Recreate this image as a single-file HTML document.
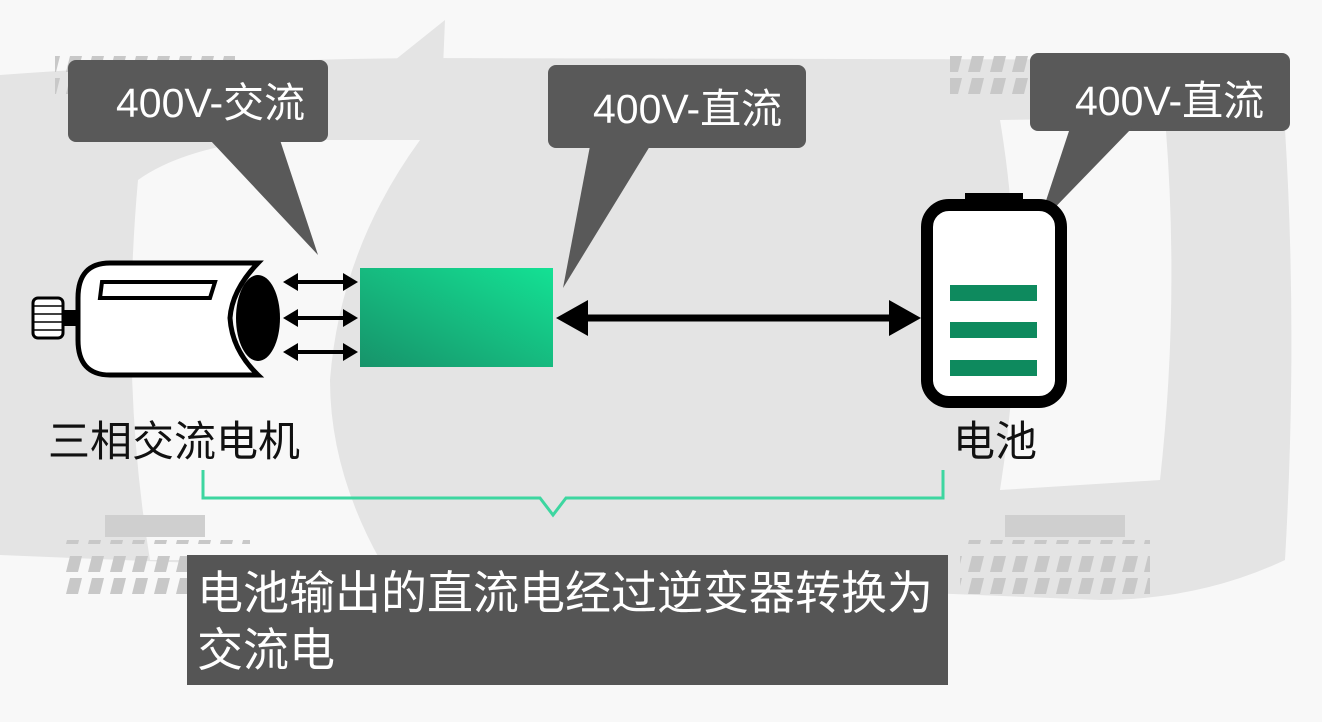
<!DOCTYPE html>
<html><head><meta charset="utf-8"><style>
html,body{margin:0;padding:0;background:#f8f8f8}
svg{display:block}
text{font-family:"Liberation Sans","Noto Sans CJK SC",sans-serif}
</style></head><body>
<svg width="1322" height="722" viewBox="0 0 1322 722" xmlns="http://www.w3.org/2000/svg">
<defs>
<linearGradient id="g" x1="0" y1="1" x2="1" y2="0">
<stop offset="0" stop-color="#17936a"/><stop offset="1" stop-color="#14e194"/>
</linearGradient>
<pattern id="tr" width="22" height="50" patternUnits="userSpaceOnUse">
<polygon points="4,6 16,6 12,22 0,22" fill="#c8c8c8"/>
<polygon points="4,28 16,28 12,44 0,44" fill="#c8c8c8"/>
</pattern>
</defs>
<rect width="1322" height="722" fill="#f8f8f8"/>
<path d="M0,75 Q200,60 420,58 L1280,60 Q1300,300 1285,560 Q1200,600 1100,600 L0,555 Z" fill="#e4e4e4"/>
<path d="M138,180 Q180,150 260,140 L420,140 Q340,250 330,380 Q330,470 380,560 L150,560 Q120,380 138,180 Z" fill="#f8f8f8"/>
<path d="M1000,120 L1165,118 Q1180,300 1160,480 L1000,490 Q1030,300 1000,120 Z" fill="#f8f8f8"/>
<path d="M445,20 L440,140 Q400,100 395,60 Z" fill="#e4e4e4"/>
<rect x="0" y="610" width="1322" height="112" fill="#f8f8f8"/>
<rect x="55" y="45" width="180" height="50" fill="url(#tr)"/>
<rect x="950" y="45" width="190" height="55" fill="url(#tr)"/>
<rect x="60" y="540" width="190" height="60" fill="url(#tr)"/>
<rect x="960" y="540" width="190" height="60" fill="url(#tr)"/>
<rect x="105" y="515" width="100" height="22" fill="#cfcfcf"/>
<rect x="1005" y="515" width="120" height="22" fill="#cfcfcf"/>
<g fill="#595959">
<rect x="68" y="60" width="260" height="82" rx="8"/>
<polygon points="210,140 280,140 318,255"/>
<rect x="548" y="65" width="258" height="83" rx="8"/>
<polygon points="590,146 650,146 563,288"/>
<rect x="1030" y="53" width="260" height="78" rx="8"/>
<polygon points="1070,128 1132,128 1038,225"/>
</g>
<g fill="#fff" font-size="41">
<text x="116" y="117">400V-交流</text>
<text x="593" y="123">400V-直流</text>
<text x="1075" y="115">400V-直流</text>
</g>
<rect x="33" y="298" width="30" height="40" rx="5" fill="#fff" stroke="#000" stroke-width="3"/>
<g stroke="#000" stroke-width="1.5"><line x1="34" y1="306" x2="62" y2="306"/><line x1="34" y1="314" x2="62" y2="314"/><line x1="34" y1="322" x2="62" y2="322"/><line x1="34" y1="330" x2="62" y2="330"/></g>
<rect x="62" y="310" width="18" height="16" fill="#000"/>
<path d="M110,263 L258,263 Q232,290 230,318 Q232,350 258,375 L110,375 Q78,375 78,340 L78,298 Q78,263 110,263 Z" fill="#fff" stroke="#000" stroke-width="5"/>
<polygon points="102,282 215,282 210,298 100,298" fill="#fff" stroke="#000" stroke-width="4"/>
<ellipse cx="258" cy="318" rx="22" ry="43" fill="#000"/>
<g stroke="#000" stroke-width="4">
<line x1="292" y1="282" x2="348" y2="282"/><line x1="292" y1="318" x2="348" y2="318"/><line x1="292" y1="352" x2="348" y2="352"/>
</g>
<g fill="#000">
<polygon points="283,282 298,273 298,291"/><polygon points="358,282 343,273 343,291"/>
<polygon points="283,318 298,309 298,327"/><polygon points="358,318 343,309 343,327"/>
<polygon points="283,352 298,343 298,361"/><polygon points="358,352 343,343 343,361"/>
</g>
<rect x="360" y="268" width="193" height="99" fill="url(#g)"/>
<line x1="575" y1="318" x2="900" y2="318" stroke="#000" stroke-width="7"/>
<polygon points="556,318 588,300 588,336" fill="#000"/>
<polygon points="921,318 889,300 889,336" fill="#000"/>
<rect x="965" y="193" width="58" height="22" fill="#000"/>
<rect x="927" y="205" width="134" height="197" rx="22" fill="#fff" stroke="#000" stroke-width="12"/>
<g fill="#0e8a5e">
<rect x="950" y="285" width="87" height="16"/><rect x="950" y="322" width="87" height="16"/><rect x="950" y="360" width="87" height="16"/>
</g>
<text x="48" y="456" font-size="42" fill="#111">三相交流电机</text>
<text x="953" y="456" font-size="42" fill="#111">电池</text>
<polyline points="203,470 203,498 540,498 553,515 566,498 943,498 943,470" fill="none" stroke="#3dd6a0" stroke-width="3"/>
<rect x="187" y="555" width="761" height="130" fill="#555"/>
<g fill="#fff" font-size="46">
<text x="197" y="609">电池输出的直流电经过逆变器转换为</text>
<text x="197" y="666">交流电</text>
</g>
</svg>
</body></html>
